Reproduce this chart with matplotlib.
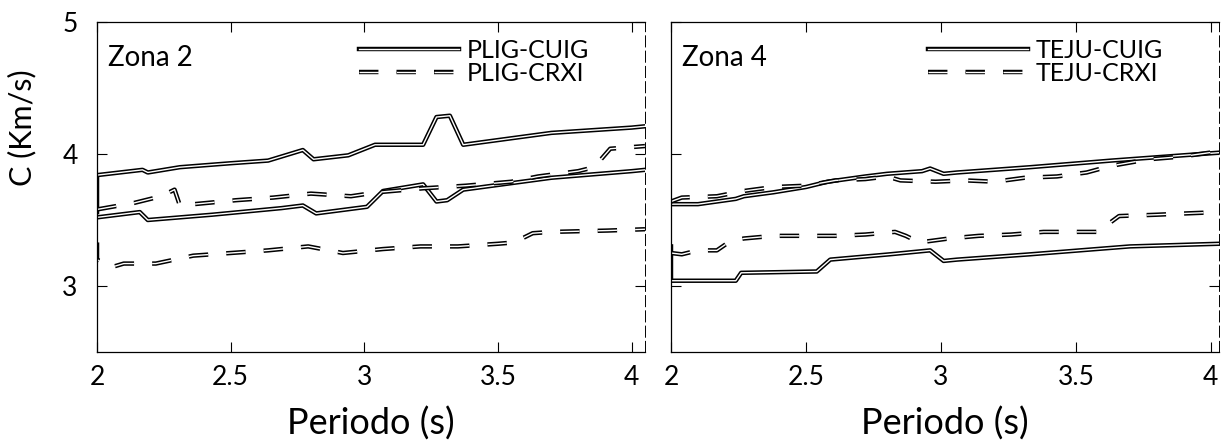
import matplotlib
matplotlib.use('Agg')
import matplotlib.pyplot as plt
import matplotlib.patheffects as pe

plt.rcParams['font.family'] = ['Lato', 'DejaVu Sans']
plt.rcParams['lines.scale_dashes'] = False

# Zona 2: PLIG-CUIG (solid) and PLIG-CRXI (dashed), upper and lower bounds
z2_cuig_sup_x = [2.00, 2.00, 2.17, 2.19, 2.31, 2.50, 2.64, 2.77, 2.81, 2.94, 3.04, 3.22, 3.27, 3.32, 3.37, 3.70, 4.00, 4.05]
z2_cuig_sup_y = [3.56, 3.84, 3.88, 3.86, 3.90, 3.93, 3.95, 4.03, 3.96, 3.99, 4.07, 4.07, 4.28, 4.29, 4.07, 4.16, 4.20, 4.21]
z2_cuig_inf_x = [2.00, 2.16, 2.19, 2.43, 2.69, 2.77, 2.82, 3.01, 3.07, 3.22, 3.27, 3.31, 3.37, 3.70, 4.00, 4.05]
z2_cuig_inf_y = [3.52, 3.56, 3.50, 3.54, 3.59, 3.61, 3.55, 3.60, 3.72, 3.77, 3.64, 3.65, 3.73, 3.82, 3.87, 3.88]
z2_crxi_sup_x = [2.00, 2.14, 2.24, 2.29, 2.31, 2.52, 2.66, 2.80, 2.95, 3.05, 3.22, 3.38, 3.55, 3.65, 3.80, 3.86, 3.92, 4.05]
z2_crxi_sup_y = [3.58, 3.63, 3.68, 3.73, 3.61, 3.65, 3.67, 3.70, 3.68, 3.71, 3.74, 3.76, 3.79, 3.83, 3.87, 3.90, 4.04, 4.06]
z2_crxi_inf_x = [2.00, 2.00, 2.05, 2.10, 2.22, 2.36, 2.50, 2.64, 2.79, 2.92, 3.07, 3.21, 3.35, 3.50, 3.56, 3.63, 3.70, 3.91, 4.05]
z2_crxi_inf_y = [3.33, 3.20, 3.14, 3.17, 3.17, 3.23, 3.25, 3.27, 3.30, 3.25, 3.28, 3.30, 3.30, 3.32, 3.33, 3.40, 3.41, 3.42, 3.43]

# Zona 4: TEJU-CUIG (solid) and TEJU-CRXI (dashed)
z4_cuig_sup_x = [2.00, 2.10, 2.24, 2.27, 2.38, 2.50, 2.58, 2.72, 2.80, 2.93, 2.96, 3.01, 3.06, 3.33, 3.63, 4.03]
z4_cuig_sup_y = [3.62, 3.62, 3.66, 3.68, 3.71, 3.75, 3.79, 3.83, 3.85, 3.87, 3.89, 3.85, 3.86, 3.90, 3.95, 4.01]
z4_cuig_inf_x = [2.00, 2.00, 2.24, 2.26, 2.54, 2.59, 2.81, 2.96, 3.01, 3.06, 3.33, 3.70, 4.03]
z4_cuig_inf_y = [3.30, 3.04, 3.04, 3.10, 3.11, 3.20, 3.24, 3.27, 3.19, 3.20, 3.24, 3.30, 3.32]
z4_crxi_sup_x = [2.00, 2.04, 2.17, 2.27, 2.38, 2.50, 2.61, 2.72, 2.80, 2.85, 2.98, 3.09, 3.20, 3.31, 3.43, 3.54, 3.63, 3.77, 3.89, 4.03]
z4_crxi_sup_y = [3.64, 3.67, 3.68, 3.72, 3.75, 3.76, 3.80, 3.81, 3.83, 3.80, 3.79, 3.80, 3.79, 3.82, 3.83, 3.86, 3.91, 3.96, 3.98, 4.02]
z4_crxi_inf_x = [2.00, 2.04, 2.10, 2.17, 2.22, 2.27, 2.38, 2.50, 2.61, 2.72, 2.83, 2.87, 2.92, 3.03, 3.14, 3.26, 3.38, 3.58, 3.66, 3.80, 3.91, 4.03]
z4_crxi_inf_y = [3.25, 3.24, 3.27, 3.27, 3.34, 3.36, 3.38, 3.38, 3.38, 3.39, 3.41, 3.38, 3.33, 3.36, 3.38, 3.39, 3.41, 3.41, 3.53, 3.54, 3.55, 3.56]

xticks = [2, 2.5, 3, 3.5, 4]
xtick_labels = ['2', '2.5', '3', '3.5', '4']
yticks = [3, 4, 5]

# hollow outline look of the traced curves
hollow = [pe.Stroke(linewidth=3.2, foreground='black'), pe.Normal()]
dash = (0, (14, 13))

fig = plt.figure(figsize=(12.22, 4.47), dpi=100)
ax1 = fig.add_axes([0.0794, 0.2125, 0.4484, 0.7383])
ax2 = fig.add_axes([0.5491, 0.2125, 0.4484, 0.7383])

panels = [
    (ax1, 'Zona 2', 'PLIG', z2_cuig_sup_x, z2_cuig_sup_y, z2_cuig_inf_x, z2_cuig_inf_y,
     z2_crxi_sup_x, z2_crxi_sup_y, z2_crxi_inf_x, z2_crxi_inf_y, 4.05),
    (ax2, 'Zona 4', 'TEJU', z4_cuig_sup_x, z4_cuig_sup_y, z4_cuig_inf_x, z4_cuig_inf_y,
     z4_crxi_sup_x, z4_crxi_sup_y, z4_crxi_inf_x, z4_crxi_inf_y, 4.03),
]

for ax, zona, est, csx, csy, cix, ciy, rsx, rsy, rix, riy, xmax in panels:
    l1, = ax.plot(csx, csy, color='white', lw=1.0, path_effects=hollow, label=est + '-CUIG')
    ax.plot(cix, ciy, color='white', lw=1.0, path_effects=hollow)
    l2, = ax.plot(rsx, rsy, color='white', lw=1.0, linestyle=dash, dash_capstyle='butt',
                  path_effects=hollow, label=est + '-CRXI')
    ax.plot(rix, riy, color='white', lw=1.0, linestyle=dash, dash_capstyle='butt', path_effects=hollow)

    ax.set_xlim(2, xmax)
    ax.set_ylim(2.5, 5)
    ax.set_xticks(xticks)
    ax.set_xticklabels(xtick_labels)
    ax.set_yticks(yticks)
    ax.tick_params(direction='in', length=7, width=0.8, labelsize=19, pad=9,
                   top=True, right=True)
    for s in ax.spines.values():
        s.set_linewidth(0.9)
    ax.spines['right'].set_linestyle((0, (8, 3)))
    ax.spines['right'].set_linewidth(0.7)

    ax.text(0.02, 0.89, zona, transform=ax.transAxes, fontsize=20, va='center', ha='left')
    ax.legend(handles=[l1, l2], loc='upper right', frameon=False, fontsize=18,
              handlelength=4.0, handletextpad=0.3, labelspacing=0.0,
              borderaxespad=0.2, bbox_to_anchor=(0.925, 0.995))
    ax.set_xlabel('Periodo (s)', fontsize=26, labelpad=12)

ax1.set_ylabel('C (Km/s)', fontsize=22)
ax1.yaxis.set_label_coords(-0.11, 0.68)
ax1.tick_params(axis='y', pad=14)
ax2.set_yticklabels([])

fig.savefig('out.png', dpi=100)
